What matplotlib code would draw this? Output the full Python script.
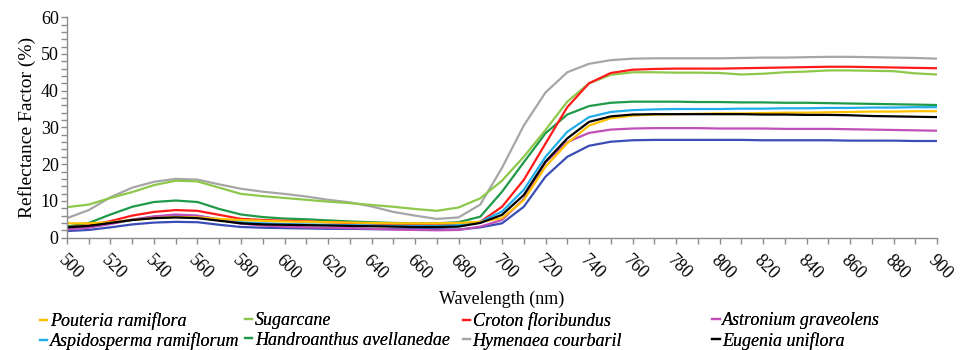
import numpy as np
import matplotlib
matplotlib.use("Agg")
import matplotlib.pyplot as plt
from matplotlib.lines import Line2D
from matplotlib.ticker import MultipleLocator

plt.rcParams['font.family'] = ['Liberation Serif', 'DejaVu Serif']

wavelength = list(range(500, 901, 10))

pouteria = [3.9, 3.9, 4.2, 4.8, 5.3, 5.6, 5.5, 5.1, 4.8, 4.6, 4.4, 4.3, 4.2, 4.1, 4.0, 3.9, 3.9, 3.9, 4.0, 4.3,
            5.3, 10.2, 19.3, 25.7, 30.5, 32.5, 33.2, 33.5, 33.6, 33.7, 33.8, 33.8, 33.9, 34.0, 34.0, 34.1, 34.2,
            34.3, 34.3, 34.4, 34.4]
sugarcane = [8.3, 9.0, 10.8, 12.4, 14.3, 15.5, 15.3, 13.6, 11.9, 11.3, 10.8, 10.3, 9.8, 9.4, 8.9, 8.4, 7.8, 7.3,
             8.2, 10.7, 15.5, 22.0, 29.3, 37.0, 42.0, 44.3, 45.0, 45.0, 44.9, 44.9, 44.8, 44.4, 44.6, 45.0, 45.2,
             45.5, 45.5, 45.4, 45.3, 44.7, 44.4]
croton = [2.8, 3.3, 4.5, 6.0, 7.0, 7.5, 7.3, 6.2, 5.1, 4.8, 4.6, 4.4, 4.2, 4.0, 3.8, 3.6, 3.5, 3.5, 3.8, 4.3,
          8.4, 15.7, 25.6, 35.5, 42.0, 44.8, 45.7, 45.9, 46.0, 46.0, 46.0, 46.1, 46.2, 46.3, 46.4, 46.5, 46.5,
          46.4, 46.3, 46.2, 46.1]
astronium = [2.2, 2.7, 3.7, 4.9, 5.8, 6.3, 6.0, 4.9, 3.8, 3.3, 3.0, 2.8, 2.7, 2.6, 2.4, 2.2, 2.1, 2.0, 2.1, 3.0,
             4.8, 10.5, 20.5, 26.0, 28.5, 29.4, 29.7, 29.8, 29.8, 29.8, 29.7, 29.7, 29.7, 29.6, 29.6, 29.6, 29.5,
             29.4, 29.3, 29.2, 29.1]
aspidosperma = [2.6, 3.0, 3.9, 4.9, 5.7, 6.1, 5.9, 5.0, 4.2, 3.9, 3.7, 3.6, 3.5, 3.4, 3.3, 3.2, 3.2, 3.2, 3.4,
                4.3, 7.1, 13.0, 22.0, 28.8, 32.8, 34.2, 34.7, 34.9, 35.0, 35.0, 35.0, 35.1, 35.1, 35.2, 35.2,
                35.3, 35.3, 35.4, 35.4, 35.5, 35.5]
handroanthus = [3.0, 4.0, 6.3, 8.4, 9.7, 10.1, 9.7, 7.8, 6.3, 5.6, 5.2, 5.0, 4.7, 4.4, 4.2, 4.0, 3.9, 3.9, 4.2,
                5.7, 12.5, 20.5, 28.4, 33.5, 35.8, 36.7, 37.0, 37.0, 37.0, 36.9, 36.9, 36.8, 36.8, 36.7, 36.7,
                36.6, 36.5, 36.4, 36.3, 36.2, 36.1]
hymenaea = [5.3, 7.5, 11.0, 13.6, 15.2, 16.0, 15.8, 14.5, 13.3, 12.5, 11.9, 11.2, 10.3, 9.6, 8.5, 7.0, 6.0, 5.1,
            5.5, 9.0, 19.0, 30.5, 39.5, 45.0, 47.3, 48.3, 48.7, 48.8, 48.8, 48.8, 48.8, 48.9, 49.0, 49.0, 49.1,
            49.2, 49.2, 49.1, 49.0, 48.9, 48.7]
eugenia = [2.8, 3.2, 4.0, 4.8, 5.3, 5.5, 5.3, 4.6, 3.9, 3.6, 3.5, 3.4, 3.3, 3.2, 3.1, 3.0, 2.9, 2.9, 3.0, 4.0,
           6.2, 11.6, 20.7, 27.0, 31.5, 33.0, 33.5, 33.6, 33.6, 33.6, 33.6, 33.6, 33.5, 33.5, 33.4, 33.4, 33.3,
           33.1, 33.0, 32.9, 32.8]
unlabeled_blue = [1.8, 2.1, 2.8, 3.6, 4.1, 4.3, 4.2, 3.5, 2.9, 2.7, 2.6, 2.5, 2.4, 2.4, 2.3, 2.3, 2.3, 2.3, 2.2,
                  2.8, 3.9, 8.4, 16.6, 22.0, 25.0, 26.1, 26.5, 26.6, 26.6, 26.6, 26.6, 26.6, 26.5, 26.5, 26.5,
                  26.5, 26.4, 26.4, 26.4, 26.3, 26.3]

names = ["Pouteria ramiflora", "Sugarcane", "Croton floribundus", "Astronium graveolens",
         "Aspidosperma ramiflorum", "Handroanthus avellanedae", "Hymenaea courbaril", "Eugenia uniflora"]
series = [pouteria, sugarcane, croton, astronium, aspidosperma, handroanthus, hymenaea, eugenia]
colors = ["#FFC000", "#8DC84A", "#FF1A1A", "#C04FB8", "#22ADEB", "#1E9A48", "#A6A6A6", "#000000"]

FAM = ['Liberation Serif', 'DejaVu Serif']

fig = plt.figure(figsize=(9.64, 3.5), dpi=100)
ax = fig.add_axes([0.0695, 0.321, 0.9025, 0.630])

ax.plot(wavelength, unlabeled_blue, color="#3A4DB5", lw=1.6)
order = [6, 1, 5, 2, 4, 3, 0, 7]
for i in order:
    ax.plot(wavelength, series[i], color=colors[i], lw=1.6)

ax.set_xlim(500, 900)
ax.set_ylim(0, 60)
ax.xaxis.set_major_locator(MultipleLocator(20))
ax.xaxis.set_minor_locator(MultipleLocator(10))
ax.yaxis.set_major_locator(MultipleLocator(10))
ax.yaxis.set_minor_locator(MultipleLocator(2))
for s in ["top", "right"]:
    ax.spines[s].set_visible(False)
for s in ["left", "bottom"]:
    ax.spines[s].set_color("#8c8c8c")
    ax.spines[s].set_linewidth(1.0)
ax.tick_params(which="both", color="#8c8c8c", length=4, width=1.0, labelsize=13)
ax.tick_params(axis="y", pad=2)
ax.tick_params(axis="x", pad=6)
for lab in ax.get_xticklabels() + ax.get_yticklabels():
    lab.set_family(FAM)
for lab in ax.get_xticklabels():
    lab.set_rotation(-45)
    lab.set_rotation_mode("anchor")
    lab.set_ha("left")
    lab.set_va("top")

ax.set_xlabel("Wavelength (nm)", fontsize=13, labelpad=6, family=FAM)
ax.set_ylabel("Reflectance Factor (%)", fontsize=14, labelpad=3, family=FAM)

col_x = [0.0415, 0.254, 0.480, 0.739]
cols = [[0, 4], [1, 5], [2, 6], [3, 7]]
for cx, idxs in zip(col_x, cols):
    handles = [Line2D([0], [0], color=colors[i], lw=1.6) for i in idxs]
    labels = [names[i] for i in idxs]
    leg = fig.legend(handles, labels, loc="upper left", bbox_to_anchor=(cx, 0.108),
                     frameon=False, handlelength=0.4, handletextpad=0.15, labelspacing=0.14,
                     borderaxespad=0, borderpad=0,
                     prop={"family": FAM, "style": "italic", "size": 13})
    fig.add_artist(leg)

fig.savefig("out.png", dpi=100)
